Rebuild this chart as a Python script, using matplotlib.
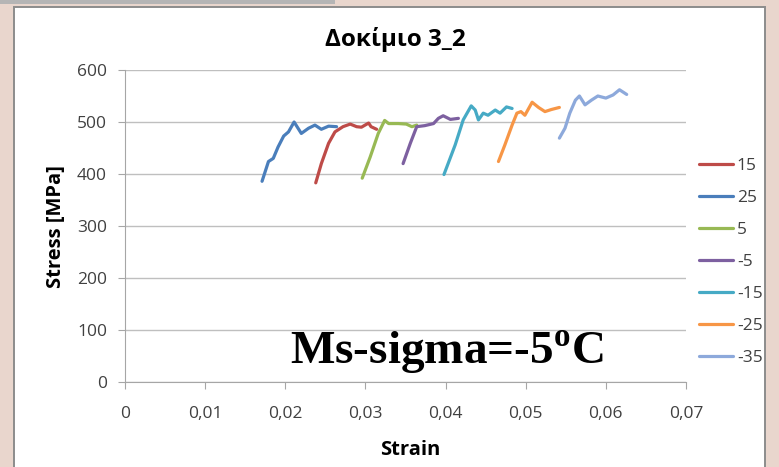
import matplotlib
matplotlib.use("Agg")
import matplotlib.pyplot as plt
from matplotlib.patches import Rectangle
from matplotlib.ticker import FuncFormatter, MultipleLocator

plt.rcParams['font.family'] = ['Open Sans', 'DejaVu Sans']
plt.rcParams['mathtext.fontset'] = 'custom'
plt.rcParams['mathtext.rm'] = 'Liberation Serif:bold'

# series (strain, stress)
labels = ["15", "25", "5", "-5", "-15", "-25", "-35"]
colors = ["#BE4B48", "#4A7EBB", "#98B954", "#7D60A0", "#46AAC5", "#F79646", "#8DA9DB"]

strain_15 = [0.0238, 0.0245, 0.0254, 0.0262, 0.0272, 0.0281, 0.0289, 0.0295, 0.0304, 0.0307, 0.0314]
stress_15 = [383, 420, 459, 481, 491, 496, 491, 490, 498, 491, 486]

strain_25 = [0.0171, 0.0179, 0.0185, 0.0191, 0.0198, 0.0204, 0.0211, 0.0220, 0.0229, 0.0237, 0.0245, 0.0254, 0.0264]
stress_25 = [386, 424, 430, 452, 473, 481, 500, 478, 488, 494, 486, 492, 491]

strain_5 = [0.0296, 0.0306, 0.0316, 0.0324, 0.0329, 0.0341, 0.0351, 0.0358, 0.0364]
stress_5 = [392, 433, 478, 503, 497, 497, 496, 491, 494]

strain_m5 = [0.0347, 0.0356, 0.0364, 0.0374, 0.0385, 0.0391, 0.0397, 0.0406, 0.0416]
stress_m5 = [420, 459, 491, 493, 497, 507, 512, 505, 507]

strain_m15 = [0.0398, 0.0412, 0.0422, 0.0432, 0.0437, 0.0441, 0.0447, 0.0453, 0.0462, 0.0468, 0.0476, 0.0483]
stress_m15 = [399, 456, 504, 531, 523, 504, 517, 513, 523, 517, 529, 526]

strain_m25 = [0.0466, 0.0474, 0.0483, 0.0489, 0.0494, 0.0499, 0.0508, 0.0516, 0.0524, 0.0532, 0.0542]
stress_m25 = [424, 456, 494, 517, 520, 513, 538, 528, 520, 524, 528]

strain_m35 = [0.0542, 0.0549, 0.0555, 0.0562, 0.0567, 0.0574, 0.0582, 0.0590, 0.0600, 0.0609, 0.0617, 0.0626]
stress_m35 = [469, 488, 517, 542, 550, 533, 542, 550, 546, 552, 562, 553]

strains = [strain_15, strain_25, strain_5, strain_m5, strain_m15, strain_m25, strain_m35]
stresses = [stress_15, stress_25, stress_5, stress_m5, stress_m15, stress_m25, stress_m35]

W, H = 779, 467
fig = plt.figure(figsize=(W / 100, H / 100), dpi=100)
fig.patch.set_facecolor("#E9D6CD")

# white chart panel and the grey strip at the top
fig.add_artist(Rectangle((14 / W, -0.01), 751 / W, 1.01 - 7 / H, transform=fig.transFigure,
                         facecolor="white", edgecolor="#8C8C8C", linewidth=1.4, zorder=0))
fig.add_artist(Rectangle((0, 1 - 4 / H), 335 / W, 4 / H, transform=fig.transFigure,
                         facecolor="#B5B5B5", edgecolor="none", zorder=0))

ax = fig.add_axes([125 / W, 1 - 382 / H, 561 / W, 312 / H])
ax.set_facecolor("none")

for x, y, c, lab in zip(strains, stresses, colors, labels):
    ax.plot(x, y, color=c, linewidth=2.3, label=lab, solid_capstyle="round")

ax.set_xlim(0, 0.07)
ax.set_ylim(0, 600)
ax.xaxis.set_major_locator(MultipleLocator(0.01))
ax.yaxis.set_major_locator(MultipleLocator(100))
ax.xaxis.set_major_formatter(FuncFormatter(lambda v, p: "0" if abs(v) < 1e-9 else f"{v:.2f}".replace(".", ",")))
ax.yaxis.grid(True, color="#BFBFBF", linewidth=1.0)
ax.set_axisbelow(True)
for s in ["top", "right"]:
    ax.spines[s].set_visible(False)
for s in ["left", "bottom"]:
    ax.spines[s].set_color("#A6A6A6")
ax.tick_params(axis="both", colors="#A6A6A6", labelcolor="#404040", labelsize=12.5, length=5)
ax.tick_params(axis="x", pad=12)
ax.tick_params(axis="y", pad=8)

fig.text(395 / W, 1 - 40 / H, "Δοκίμιο 3_2", fontsize=17.5, fontweight="bold", ha="center", va="center")
fig.text(410 / W, 1 - 450 / H, "Strain", fontsize=14.5, fontweight="bold", ha="center", va="center")
fig.text(56 / W, 1 - 227 / H, "Stress [MPa]", fontsize=14.5, fontweight="bold", ha="center", va="center",
         rotation=90)

ax.text(0.0206, 33, r"Ms-sigma=-5$^{\rm o}$C", fontsize=34, fontweight="bold",
        family="Liberation Serif", ha="left", va="baseline")

fig.legend(loc="center left", bbox_to_anchor=(683 / W, 1 - 262 / H), frameon=False,
           fontsize=12.5, handlelength=2.0, handletextpad=0.2, labelspacing=0.92,
           labelcolor="#404040")

fig.savefig("out.png", dpi=100, facecolor=fig.get_facecolor())
